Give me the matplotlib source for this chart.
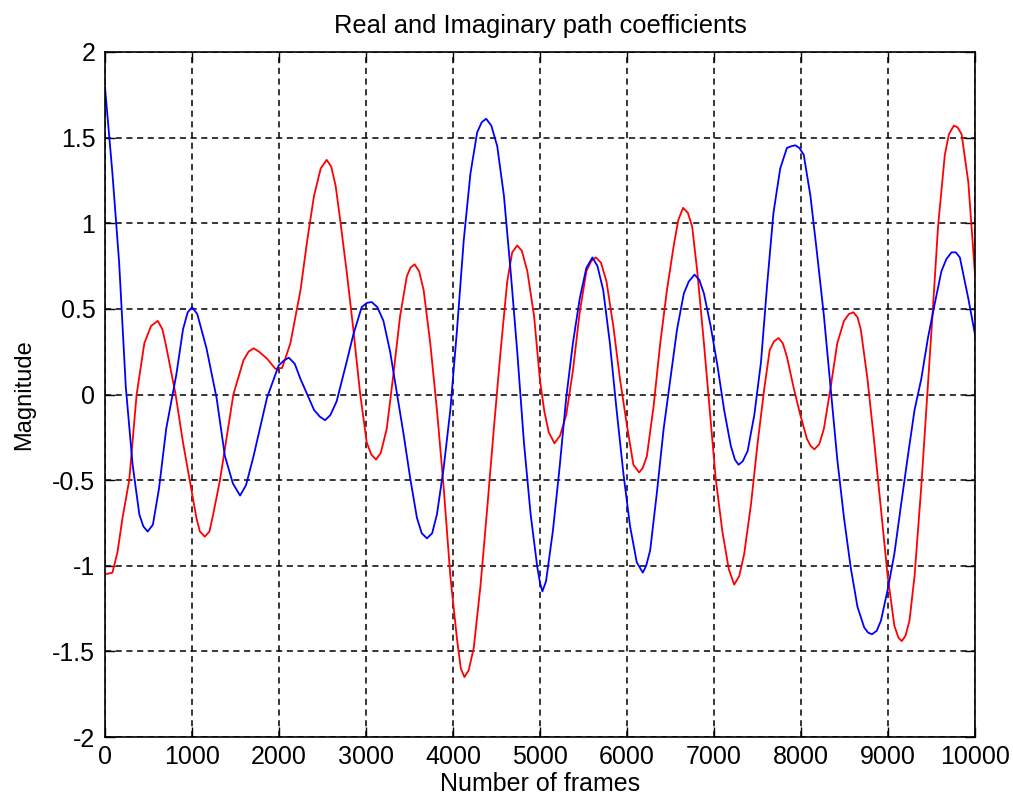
import numpy as np
import matplotlib
matplotlib.use("Agg")
import matplotlib.pyplot as plt

plt.rcParams["font.family"] = ["Liberation Sans", "DejaVu Sans"]
plt.rcParams["axes.unicode_minus"] = False

# values (frame, magnitude)
real_frames = [0, 85, 143, 201, 278, 363, 452, 529, 606, 660, 703, 811, 896, 973,
               1050, 1090, 1147, 1200, 1243, 1321, 1398, 1475, 1591, 1650, 1707,
               1770, 1861, 1958, 2035, 2131, 2247, 2324, 2402, 2479, 2548, 2600,
               2650, 2700, 2777, 2854, 2931, 3008, 3060, 3115, 3170, 3238, 3315,
               3392, 3469, 3510, 3558, 3610, 3662, 3738, 3815, 3892, 3969, 4046,
               4090, 4131, 4180, 4238, 4315, 4392, 4469, 4546, 4623, 4680, 4738,
               4790, 4854, 4931, 5000, 5050, 5100, 5166, 5230, 5301, 5378, 5456,
               5533, 5590, 5641, 5700, 5764, 5842, 5919, 5996, 6073, 6139, 6180,
               6228, 6305, 6382, 6459, 6537, 6590, 6645, 6700, 6749, 6807, 6884,
               6961, 7019, 7096, 7170, 7232, 7290, 7347, 7425, 7502, 7579, 7640,
               7690, 7741, 7790, 7838, 7915, 7992, 8069, 8110, 8154, 8210, 8263,
               8340, 8417, 8494, 8550, 8602, 8650, 8687, 8764, 8842, 8919, 8996,
               9073, 9120, 9158, 9200, 9247, 9305, 9382, 9459, 9517, 9575, 9653,
               9700, 9757, 9800, 9846, 9923, 10000]
real_values = [-1.05, -1.04, -0.92, -0.72, -0.50, 0.0, 0.30, 0.40, 0.43, 0.38,
               0.28, 0.0, -0.28, -0.50, -0.72, -0.80, -0.83, -0.80, -0.70, -0.50,
               -0.25, 0.0, 0.20, 0.25, 0.27, 0.25, 0.21, 0.15, 0.155, 0.30, 0.61,
               0.90, 1.16, 1.32, 1.37, 1.33, 1.22, 1.03, 0.72, 0.38, 0.01, -0.28,
               -0.35, -0.38, -0.34, -0.20, 0.12, 0.46, 0.69, 0.74, 0.76, 0.72,
               0.61, 0.30, -0.09, -0.54, -1.06, -1.43, -1.60, -1.65, -1.61, -1.48,
               -1.12, -0.67, -0.20, 0.25, 0.66, 0.83, 0.87, 0.84, 0.72, 0.46, 0.08,
               -0.10, -0.22, -0.285, -0.24, -0.12, 0.14, 0.48, 0.72, 0.78, 0.80,
               0.77, 0.66, 0.40, 0.09, -0.17, -0.41, -0.455, -0.43, -0.36, -0.07,
               0.30, 0.61, 0.87, 1.02, 1.09, 1.06, 0.98, 0.72, 0.30, -0.15, -0.49,
               -0.80, -1.02, -1.11, -1.06, -0.93, -0.64, -0.28, 0.04, 0.26, 0.31,
               0.33, 0.30, 0.22, 0.04, -0.12, -0.26, -0.30, -0.32, -0.29, -0.20,
               0.04, 0.30, 0.43, 0.47, 0.48, 0.45, 0.38, 0.09, -0.28, -0.67, -1.06,
               -1.35, -1.42, -1.44, -1.41, -1.32, -1.06, -0.54, 0.06, 0.51, 0.98,
               1.40, 1.52, 1.57, 1.56, 1.52, 1.24, 0.70]

imag_frames = [0, 85, 162, 239, 317, 394, 440, 490, 550, 620, 703, 819, 896, 950,
               1000, 1060, 1166, 1282, 1378, 1470, 1552, 1620, 1707, 1861, 1996,
               2060, 2112, 2180, 2247, 2402, 2470, 2530, 2590, 2662, 2777, 2854,
               2950, 3010, 3065, 3130, 3200, 3277, 3354, 3431, 3508, 3585, 3640,
               3700, 3760, 3815, 3892, 3969, 4046, 4123, 4200, 4277, 4330, 4381,
               4440, 4508, 4585, 4662, 4738, 4815, 4892, 4969, 5000, 5027, 5069,
               5147, 5224, 5301, 5378, 5456, 5533, 5602, 5660, 5726, 5803, 5880,
               5958, 6035, 6112, 6181, 6220, 6266, 6344, 6421, 6498, 6575, 6653,
               6710, 6776, 6830, 6884, 6961, 7039, 7116, 7193, 7240, 7282, 7330,
               7386, 7463, 7540, 7612, 7683, 7761, 7838, 7890, 7934, 7980, 8031,
               8108, 8185, 8263, 8340, 8417, 8494, 8571, 8649, 8726, 8770, 8815,
               8870, 8919, 8996, 9073, 9151, 9228, 9305, 9382, 9459, 9537, 9614,
               9670, 9730, 9780, 9826, 9923, 10000]
imag_values = [1.79, 1.29, 0.77, 0.04, -0.41, -0.70, -0.77, -0.80, -0.76, -0.55,
               -0.20, 0.115, 0.38, 0.48, 0.51, 0.47, 0.27, -0.02, -0.36, -0.52,
               -0.59, -0.53, -0.36, -0.02, 0.17, 0.20, 0.215, 0.18, 0.09, -0.09,
               -0.13, -0.15, -0.12, -0.04, 0.19, 0.35, 0.51, 0.535, 0.54, 0.51,
               0.43, 0.25, 0.01, -0.23, -0.49, -0.72, -0.81, -0.84, -0.81, -0.70,
               -0.43, -0.09, 0.38, 0.90, 1.29, 1.53, 1.59, 1.61, 1.57, 1.45, 1.16,
               0.72, 0.25, -0.28, -0.70, -1.01, -1.10, -1.15, -1.09, -0.80, -0.43,
               -0.02, 0.30, 0.56, 0.74, 0.80, 0.75, 0.61, 0.30, -0.09, -0.46,
               -0.77, -0.98, -1.04, -1.00, -0.91, -0.57, -0.20, 0.09, 0.38, 0.59,
               0.66, 0.70, 0.67, 0.59, 0.40, 0.17, -0.09, -0.30, -0.38, -0.41,
               -0.39, -0.33, -0.12, 0.19, 0.65, 1.06, 1.32, 1.44, 1.45, 1.455,
               1.44, 1.40, 1.16, 0.82, 0.46, 0.04, -0.38, -0.72, -1.01, -1.24,
               -1.36, -1.39, -1.40, -1.38, -1.32, -1.14, -0.93, -0.64, -0.36,
               -0.09, 0.09, 0.33, 0.53, 0.72, 0.79, 0.83, 0.83, 0.80, 0.56, 0.35]

x_ticks = [0, 1000, 2000, 3000, 4000, 5000, 6000, 7000, 8000, 9000, 10000]
y_ticks = [-2, -1.5, -1, -0.5, 0, 0.5, 1, 1.5, 2]
y_tick_labels = ["-2", "-1.5", "-1", "-0.5", "0", "0.5", "1", "1.5", "2"]

fig = plt.figure(figsize=(10.13, 8.07), dpi=100)
ax = fig.add_axes([0.1037, 0.0867, 0.8588, 0.8489])

ax.plot(real_frames, real_values, color="#ff0000", linewidth=1.3)
ax.plot(imag_frames, imag_values, color="#0000ff", linewidth=1.3)

ax.set_xlim(0, 10000)
ax.set_ylim(-2, 2)
ax.set_xticks(x_ticks)
ax.set_xticklabels([str(t) for t in x_ticks])
ax.set_yticks(y_ticks)
ax.set_yticklabels(y_tick_labels)

ax.grid(True, color="black", linestyle=(0, (4, 3)), linewidth=1.1)
ax.tick_params(direction="in", length=7, width=1, top=True, right=True,
               labelsize=18)
ax.tick_params(axis="x", pad=6)
ax.tick_params(axis="y", pad=7)
for s in ax.spines.values():
    s.set_linewidth(1.2)

ax.set_title("Real and Imaginary path coefficients", fontsize=18.4, pad=14)
ax.set_xlabel("Number of frames", fontsize=18, labelpad=2)
ax.set_ylabel("Magnitude", fontsize=17, labelpad=12)

fig.savefig("out.png", dpi=100, facecolor="white")
